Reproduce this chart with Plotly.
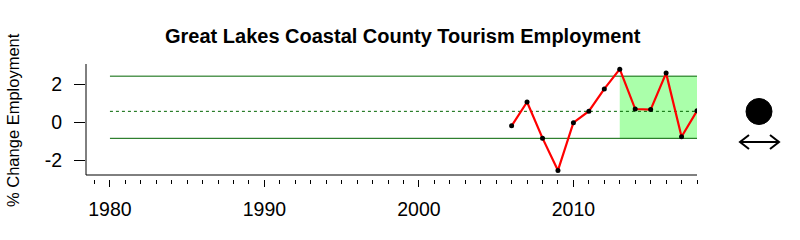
import plotly.graph_objects as go

# ---- data ----
years = [2006, 2007, 2008, 2009, 2010, 2011, 2012, 2013, 2014, 2015, 2016, 2017, 2018]
pct_change = [-0.18, 1.07, -0.83, -2.53, -0.02, 0.59, 1.76, 2.80, 0.70, 0.67, 2.59, -0.76, 0.61]
ref_start, ref_end = 1980, 2018
mean_val = 0.58
upper_val = 2.43
lower_val = -0.84
shade_start, shade_end = 2013, 2018
x_tick_vals = [1980, 1985, 1990, 1995, 2000, 2005, 2010, 2015]
x_tick_text = ["1980", "", "1990", "", "2000", "", "2010", ""]
y_tick_vals = [-2, 0, 2]
y_tick_text = ["-2", "0", "2"]
title_text = "Great Lakes Coastal County Tourism Employment"
y_title = "% Change Employment"

# ---- layout geometry (pixels) ----
W, H = 800, 240
L, R, T, B = 86, 697, 64, 179
FONT = "Liberation Sans, Arial, sans-serif"


def px_x(p):
    return (p - L) / (R - L)


def px_y(p):
    return (B - p) / (B - T)


x_range = [1978.45, 2018]
y_range = [-2.98, 3.07]

fig = go.Figure()

# reference band lines
fig.add_trace(go.Scatter(x=[ref_start, ref_end], y=[upper_val, upper_val], mode="lines",
                         line=dict(color="#006400", width=1), hoverinfo="skip", showlegend=False))
fig.add_trace(go.Scatter(x=[ref_start, ref_end], y=[lower_val, lower_val], mode="lines",
                         line=dict(color="#006400", width=1), hoverinfo="skip", showlegend=False))
fig.add_trace(go.Scatter(x=[ref_start, ref_end], y=[mean_val, mean_val], mode="lines",
                         line=dict(color="#006400", width=1, dash="3px,3px"), hoverinfo="skip",
                         showlegend=False))
# data
fig.add_trace(go.Scatter(x=years, y=pct_change, mode="lines",
                         line=dict(color="#ff0000", width=2.2), showlegend=False))
fig.add_trace(go.Scatter(x=years, y=pct_change, mode="markers",
                         marker=dict(color="black", size=5), showlegend=False))

shapes = [
    # shaded recent period
    dict(type="rect", xref="x", yref="y", x0=shade_start, x1=shade_end, y0=lower_val, y1=upper_val,
         fillcolor="#aaffaa", line=dict(width=0), layer="below"),
    # L frame
    dict(type="line", xref="paper", yref="paper", x0=0, x1=0, y0=px_y(175), y1=1,
         line=dict(color="black", width=1)),
    dict(type="line", xref="paper", yref="paper", x0=0, x1=1, y0=px_y(175), y1=px_y(175),
         line=dict(color="black", width=1)),
    # legend symbols on the right
    dict(type="circle", xref="paper", yref="paper", x0=px_x(746), x1=px_x(772),
         y0=px_y(124.5), y1=px_y(98.5), fillcolor="black", line=dict(color="black", width=1)),
]
ay = 142
arrow_path = (
    f"M{px_x(740)},{px_y(ay)} L{px_x(779)},{px_y(ay)} "
    f"M{px_x(749)},{px_y(ay - 7)} L{px_x(740)},{px_y(ay)} L{px_x(749)},{px_y(ay + 7)} "
    f"M{px_x(770)},{px_y(ay - 7)} L{px_x(779)},{px_y(ay)} L{px_x(770)},{px_y(ay + 7)}"
)
shapes.append(dict(type="path", xref="paper", yref="paper", path=arrow_path,
                   line=dict(color="black", width=2)))

annotations = [
    dict(text=f"<b>{title_text}</b>", xref="paper", yref="paper", x=px_x(403), y=px_y(35.5),
         xanchor="center", yanchor="middle", showarrow=False,
         font=dict(family=FONT, size=20, color="black")),
    dict(text=y_title, xref="paper", yref="paper", x=px_x(13), y=px_y(120),
         xanchor="center", yanchor="middle", textangle=-90, showarrow=False,
         font=dict(family=FONT, size=16.5, color="black")),
]

fig.update_layout(
    width=W, height=H,
    margin=dict(l=L, r=W - R, t=T, b=H - B, pad=0),
    paper_bgcolor="white", plot_bgcolor="white",
    font=dict(family=FONT, color="black"),
    shapes=shapes, annotations=annotations, showlegend=False,
    xaxis=dict(range=x_range, showgrid=False, zeroline=False, showline=False,
               tickmode="array", tickvals=x_tick_vals, ticktext=x_tick_text,
               ticks="outside", ticklen=7, tickwidth=1, tickcolor="black",
               ticklabelstandoff=6,
               tickfont=dict(family=FONT, size=19.5, color="black"),
               minor=dict(tickmode="array", tickvals=list(range(1979, 2019)),
                          ticks="outside", ticklen=4, tickwidth=1, tickcolor="black")),
    yaxis=dict(range=y_range, showgrid=False, zeroline=False, showline=False,
               tickmode="array", tickvals=y_tick_vals, ticktext=y_tick_text,
               ticks="outside", ticklen=11, tickwidth=1, tickcolor="black",
               ticklabelstandoff=8,
               tickfont=dict(family=FONT, size=19.5, color="black")),
)

fig.write_html("out.html", config={"displayModeBar": False})
